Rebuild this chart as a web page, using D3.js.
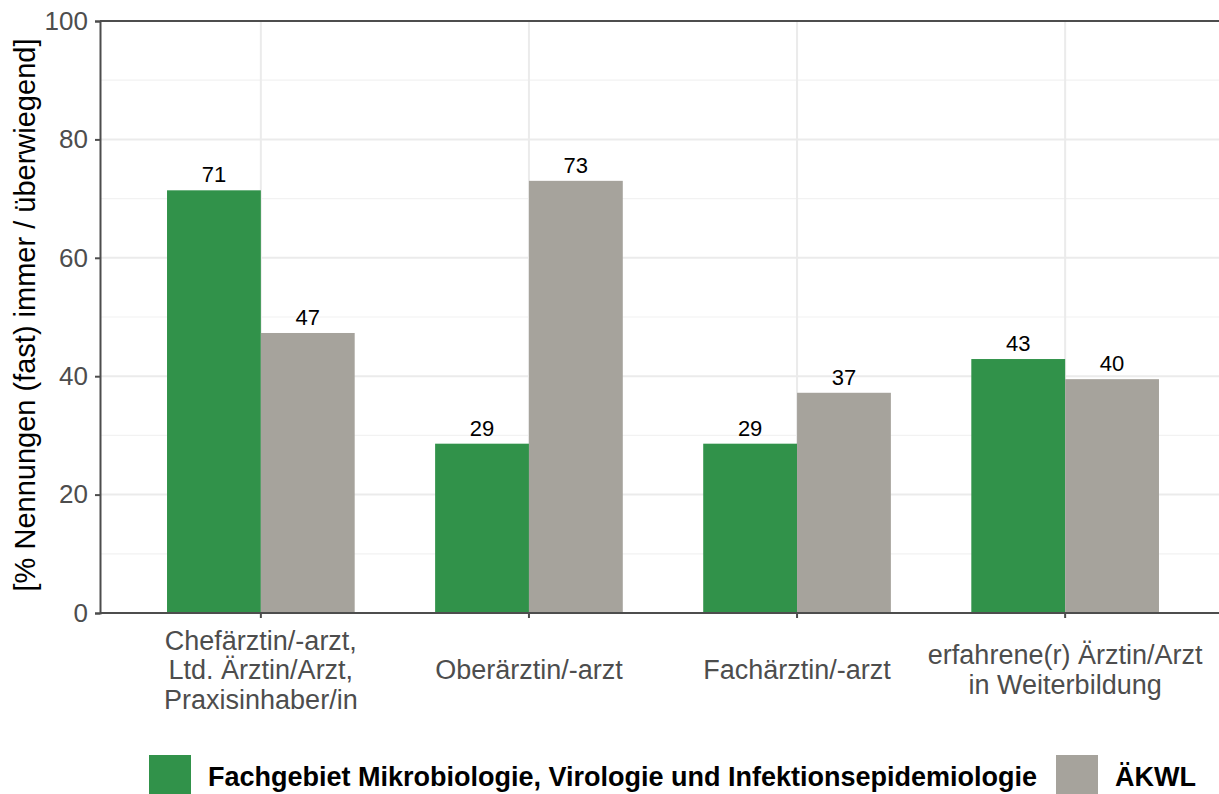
<!DOCTYPE html>
<html>
<head>
<meta charset="utf-8">
<script src="https://cdn.jsdelivr.net/npm/d3@7"></script>
<style>
  body { margin: 0; background: #fff; }
  text { font-family: "Liberation Sans", Arial, sans-serif; }
</style>
</head>
<body>
<div id="chart"></div>
<script>
const categories = [
  ['Chefärztin/-arzt,', 'Ltd. Ärztin/Arzt,', 'Praxisinhaber/in'],
  ['Oberärztin/-arzt'],
  ['Fachärztin/-arzt'],
  ['erfahrene(r) Ärztin/Arzt', 'in Weiterbildung'],
];
const seriesNames = ['Fachgebiet Mikrobiologie, Virologie und Infektionsepidemiologie', 'ÄKWL'];
const fachgebiet = [71.4, 28.6, 28.6, 42.9];
const aekwl = [47.3, 73.0, 37.2, 39.5];
const yTicks = [0, 20, 40, 60, 80, 100];
const yMinor = [10, 30, 50, 70, 90];
const colors = ['#31924a', '#a6a39c'];

const width = 1219, height = 794;
const margin = { left: 100, top: 21, bottom: 181 };
const panelRight = 1226;

const svg = d3.select('#chart').append('svg')
  .attr('width', width).attr('height', height);

const x = d3.scaleBand()
  .domain(d3.range(categories.length))
  .range([margin.left, panelRight])
  .paddingInner(0.3)
  .paddingOuter(0.25);

const xSub = d3.scaleBand()
  .domain([0, 1])
  .range([0, x.bandwidth()]);

const y = d3.scaleLinear()
  .domain([0, 100])
  .range([height - margin.bottom, margin.top]);

// grid
const grid = svg.append('g');
grid.selectAll('.minor').data(yMinor).enter().append('line')
  .attr('x1', margin.left).attr('x2', panelRight)
  .attr('y1', d => y(d)).attr('y2', d => y(d))
  .attr('stroke', '#f2f2f2').attr('stroke-width', 1.2);
grid.selectAll('.major').data(yTicks).enter().append('line')
  .attr('x1', margin.left).attr('x2', panelRight)
  .attr('y1', d => y(d)).attr('y2', d => y(d))
  .attr('stroke', '#ebebeb').attr('stroke-width', 2);
grid.selectAll('.vert').data(d3.range(categories.length)).enter().append('line')
  .attr('x1', d => x(d) + x.bandwidth() / 2).attr('x2', d => x(d) + x.bandwidth() / 2)
  .attr('y1', y(0)).attr('y2', y(100))
  .attr('stroke', '#ebebeb').attr('stroke-width', 2);

// bars
const rows = categories.map((c, i) => [fachgebiet[i], aekwl[i]]);
const groups = svg.append('g').selectAll('g').data(rows).enter().append('g')
  .attr('transform', (d, i) => `translate(${x(i)},0)`);

groups.selectAll('rect').data(d => d).enter().append('rect')
  .attr('x', (d, j) => xSub(j))
  .attr('width', xSub.bandwidth())
  .attr('y', d => y(d))
  .attr('height', d => y(0) - y(d))
  .attr('fill', (d, j) => colors[j]);

groups.selectAll('text').data(d => d).enter().append('text')
  .attr('x', (d, j) => xSub(j) + xSub.bandwidth() / 2)
  .attr('y', d => y(d) - 8)
  .attr('text-anchor', 'middle')
  .attr('font-size', 22)
  .attr('fill', '#000')
  .text(d => Math.round(d));

// axes
const yAxis = svg.append('g')
  .attr('transform', `translate(${margin.left},0)`)
  .call(d3.axisLeft(y).tickValues(yTicks).tickSize(5).tickPadding(7));
yAxis.select('.domain').attr('stroke', '#4d4d4d').attr('stroke-width', 2);
yAxis.selectAll('.tick line').attr('stroke', '#4d4d4d').attr('stroke-width', 2);
yAxis.selectAll('.tick text').attr('font-size', 26).attr('fill', '#4d4d4d')
  .attr('font-family', '"Liberation Sans", Arial, sans-serif');

const xAxis = svg.append('g')
  .attr('transform', `translate(0,${y(0)})`)
  .call(d3.axisBottom(x).tickSize(5).tickFormat(''));
xAxis.select('.domain').attr('stroke', '#4d4d4d').attr('stroke-width', 2)
  .attr('d', `M${margin.left},0H${panelRight}`);
xAxis.selectAll('.tick line').attr('stroke', '#4d4d4d').attr('stroke-width', 2);

svg.append('line')
  .attr('x1', margin.left).attr('x2', panelRight)
  .attr('y1', y(100)).attr('y2', y(100))
  .attr('stroke', '#4d4d4d').attr('stroke-width', 2);

// x labels
const lineH = 29.5;
svg.append('g').selectAll('text').data(categories).enter().append('text')
  .attr('text-anchor', 'middle')
  .attr('font-size', 27)
  .attr('fill', '#4d4d4d')
  .each(function (lines, i) {
    const cx = x(i) + x.bandwidth() / 2;
    d3.select(this).selectAll('tspan').data(lines).enter().append('tspan')
      .attr('x', cx)
      .attr('y', (l, k) => 679 + (k - (lines.length - 1) / 2) * lineH)
      .text(l => l);
  });

// y title
svg.append('text')
  .attr('transform', `translate(35,${(y(0) + y(100)) / 2 - 2}) rotate(-90)`)
  .attr('text-anchor', 'middle')
  .attr('font-size', 29)
  .attr('fill', '#000')
  .text('[% Nennungen (fast) immer / überwiegend]');

// legend
const legendX = [149, 1056];
const legend = svg.append('g').selectAll('g').data(seriesNames).enter().append('g')
  .attr('transform', (d, i) => `translate(${legendX[i]},755)`);
legend.append('rect')
  .attr('width', 42).attr('height', 42)
  .attr('fill', (d, i) => colors[i]);
legend.append('text')
  .attr('x', 59).attr('y', 31)
  .attr('font-size', 27).attr('font-weight', 'bold')
  .attr('fill', '#000')
  .text(d => d);
</script>
</body>
</html>
